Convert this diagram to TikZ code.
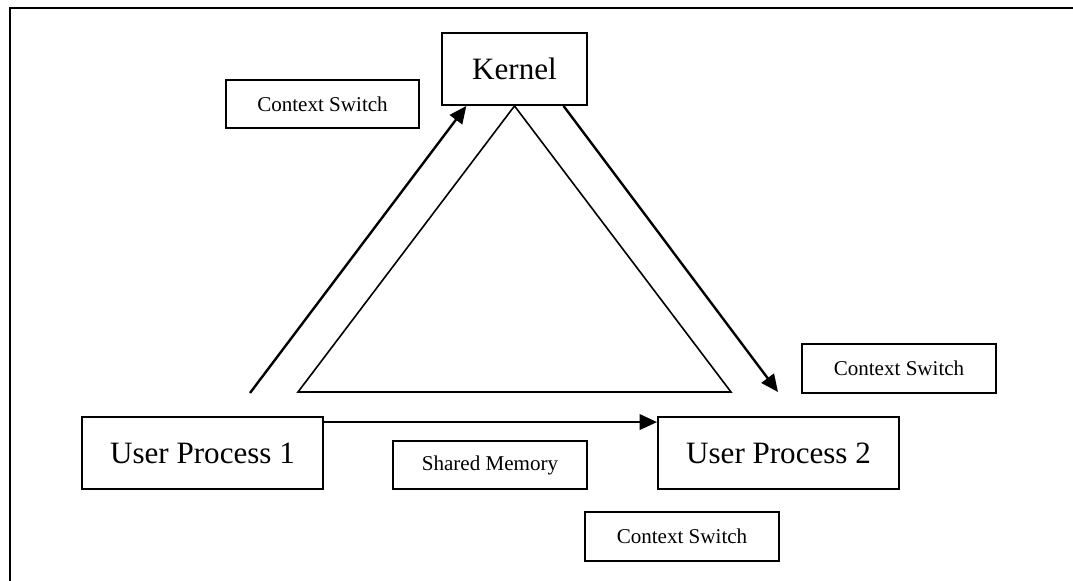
\documentclass[tikz,border=0pt]{standalone}
\usepackage{fontspec}
\setmainfont{Liberation Serif}
\usetikzlibrary{arrows.meta,calc}
\begin{document}
\begin{tikzpicture}[x=0.75pt,y=-0.75pt,
  bigbox/.style={draw=black,line width=1.4pt,inner sep=0pt,
    font=\fontsize{23.3}{28}\selectfont},
  smallbox/.style={draw=black,line width=1.4pt,inner sep=0pt,
    minimum width=145.5pt,minimum height=36.5pt,
    font=\fontsize{15.8}{19}\selectfont},
  flow/.style={line width=1.8pt,-{Triangle[length=13pt,width=11.5pt]}},
  thin edge/.style={line width=1.2pt,line join=miter}]
\useasboundingbox (0,0) rectangle (1073,581);
% page frame (top and left edges only)
\draw[line width=1.5pt] (10,581) -- (10,8.5) -- (1073,8.5);

% nodes
\node[bigbox,minimum width=108.75pt,minimum height=54pt] (kernel) at (514.5,69) {Kernel};
\node[bigbox,minimum width=180.75pt,minimum height=54pt] (up1) at (202.5,453) {User Process 1};
\node[bigbox,minimum width=180.75pt,minimum height=54pt] (up2) at (778.5,453) {User Process 2};
\node[smallbox,minimum width=144.75pt,minimum height=36pt] (cs1) at (322.5,104) {Context Switch};
\node[smallbox] (cs2) at (899,368.5) {Context Switch};
\node[smallbox] (cs3) at (682,536.5) {Context Switch};
\node[smallbox,minimum height=36pt] (shm) at (490,465) {Shared Memory};

% free ends of the context-switch arrows
\coordinate (from1) at (250,393);
\coordinate (to2) at (778,392);
\coordinate (kin) at ($(kernel.south west)!0.172!(kernel.south east)$);
\coordinate (kout) at ($(kernel.south west)!0.834!(kernel.south east)$);

% shared triangle under the kernel
\draw[thin edge] (kernel.south) -- (298,392) -- (731,392) -- cycle;

% connectors
\draw[flow] (from1) -- (kin);
\draw[flow] (kout) -- (to2);
\draw[flow] ([yshift=-4.5pt]up1.north east) -- ([yshift=-4.5pt]up2.north west);
\end{tikzpicture}
\end{document}
